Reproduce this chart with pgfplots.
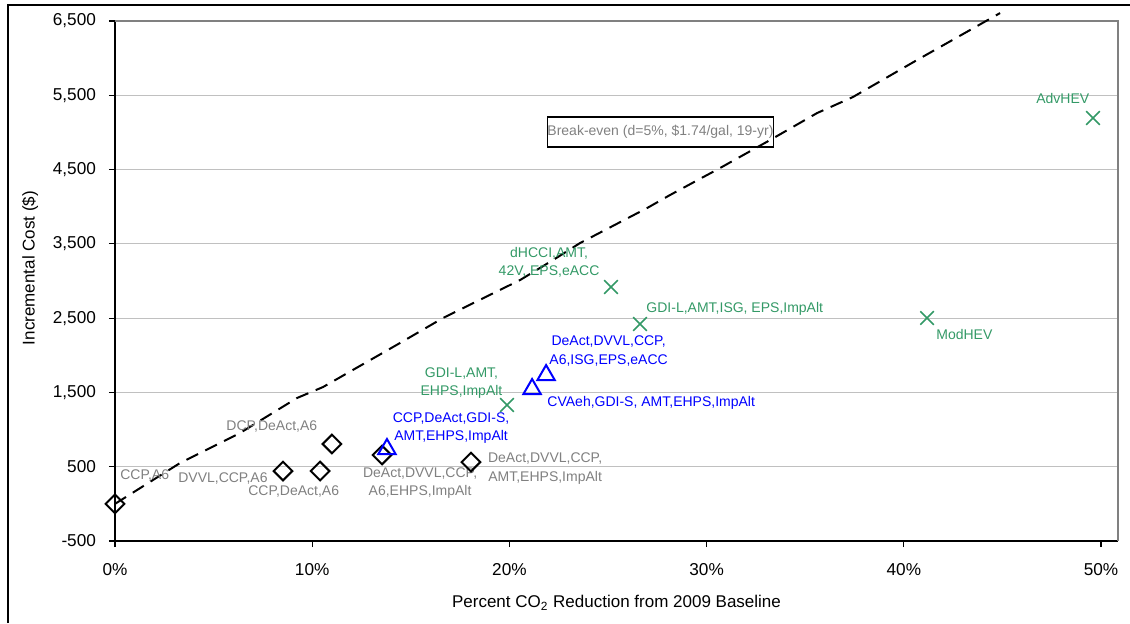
\documentclass[border=0pt]{standalone}
\usepackage{pgfplots}
\pgfplotsset{compat=1.18}
\usepackage{fontspec}
\setmainfont{Liberation Sans}

\definecolor{lblgray}{RGB}{128,128,128}
\definecolor{xgreen}{RGB}{51,153,102}
\definecolor{gridgray}{RGB}{192,192,192}
\definecolor{bordergray}{RGB}{128,128,128}
\newcommand\lbl{\fontsize{7}{9.3}\selectfont}

\begin{document}
\begin{tikzpicture}
\useasboundingbox (-57.5pt,-41pt) rectangle (507.5pt,270.5pt);
\begin{axis}[
    at={(0,0)}, anchor=south west,
    scale only axis, width=501.5pt, height=260pt,
    xmin=0, xmax=50.86,
    ymin=-500, ymax=6500,
    xtick={0,10,20,30,40,50},
    xticklabels={0\%,10\%,20\%,30\%,40\%,50\%},
    ytick={-500,500,1500,2500,3500,4500,5500,6500},
    /pgf/number format/1000 sep={,},
    /pgf/number format/assume math mode=true,
    axis x line*=bottom, axis y line*=left,
    axis line style={black, line width=1pt},
    tick style={black, line width=0.6pt},
    tick align=outside, major tick length=3pt,
    ymajorgrids=true,
    grid style={gridgray, line width=0.5pt},
    ticklabel style={font=\fontsize{8.6}{10}\selectfont},
    xticklabel style={anchor=base, yshift=-14.3pt},
    yticklabel style={xshift=-3pt},
    label style={font=\fontsize{8.5}{10}\selectfont},
    xlabel={Percent CO\textsubscript{2} Reduction from 2009 Baseline},
    ylabel={Incremental Cost (\$)},
    xlabel style={at={(axis description cs:0.5,-0.119)}, anchor=center},
    ylabel style={at={(axis description cs:-0.0847,0.525)}, anchor=center},
    clip=false,
]

% gray plot area border (top and right)
\draw[bordergray, line width=1pt] (rel axis cs:0,1) -- (rel axis cs:1,1) -- (rel axis cs:1,0);

% break-even line
\addplot[black, line width=1pt, dash pattern=on 6.5pt off 4pt] coordinates {
    (0,0)(3.30,550)(6.34,954)(9.23,1425)(10.55,1573)(14.45,2165)(16.63,2502)
    (20.54,3013)(22.21,3282)(23.58,3511)(26.98,3982)(28.14,4157)(30.68,4521)
    (33.22,4898)(35.6,5261)(37.42,5477)(40.67,5975)(44.88,6607)
};

% diamonds
\addplot[only marks, mark=square, mark size=3.3pt,
    mark options={rotate=45, black, line width=1pt, fill=none}] coordinates {
    (0,0)(8.52,442)(10.40,442)(11.00,806)(13.54,658)(18.05,563)
};

% triangles
\addplot[only marks, mark=triangle, mark size=5pt,
    mark options={blue, line width=1pt, fill=none}] coordinates {
    (13.79,738)(21.15,1546)(21.86,1734)
};

% crosses
\addplot[only marks, mark=x, mark size=4.8pt,
    mark options={xgreen, line width=0.8pt}] coordinates {
    (19.88,1331)(25.15,2919)(26.62,2421)(41.18,2502)(49.59,5194)
};

% gray labels
\node[font=\lbl, text=lblgray, anchor=west, inner sep=0pt] at (axis cs:0.25,388) {CCP,A6};
\node[font=\lbl, text=lblgray, anchor=west, inner sep=0pt] at (axis cs:3.19,348) {DVVL,CCP,A6};
\node[font=\lbl, text=lblgray, anchor=west, inner sep=0pt] at (axis cs:6.74,160) {CCP,DeAct,A6};
\node[font=\lbl, text=lblgray, anchor=west, inner sep=0pt] at (axis cs:5.63,1048) {DCP,DeAct,A6};
\node[font=\lbl, text=lblgray, align=center, inner sep=0pt] at (axis cs:15.47,281) {DeAct,DVVL,CCP,\\A6,EHPS,ImpAlt};
\node[font=\lbl, text=lblgray, align=center, inner sep=0pt] at (axis cs:21.81,476) {DeAct,DVVL,CCP,\\AMT,EHPS,ImpAlt};

% blue labels
\node[font=\lbl, text=blue, align=center, inner sep=0pt] at (axis cs:17.04,1021) {CCP,DeAct,GDI-S,\\AMT,EHPS,ImpAlt};
\node[font=\lbl, text=blue, anchor=west, inner sep=0pt] at (axis cs:21.91,1358) {CVAeh,GDI-S, AMT,EHPS,ImpAlt};
\node[font=\lbl, text=blue, align=center, inner sep=0pt] at (axis cs:25.03,2057) {DeAct,DVVL,CCP,\\A6,ISG,EPS,eACC};

% green labels
\node[font=\lbl, text=xgreen, align=center, inner sep=0pt] at (axis cs:17.57,1627) {GDI-L,AMT,\\EHPS,ImpAlt};
\node[font=\lbl, text=xgreen, align=center, inner sep=0pt] at (axis cs:22.01,3249) {dHCCI,AMT,\\42V, EPS,eACC};
\node[font=\lbl, text=xgreen, anchor=west, inner sep=0pt] at (axis cs:26.93,2623) {GDI-L,AMT,ISG, EPS,ImpAlt};
\node[font=\lbl, text=xgreen, anchor=west, inner sep=0pt] at (axis cs:41.63,2286) {ModHEV};
\node[font=\lbl, text=xgreen, anchor=west, inner sep=0pt] at (axis cs:46.7,5463) {AdvHEV};

% break-even box
\node[draw=black, line width=0.8pt, minimum width=111.5pt, minimum height=15pt,
    inner sep=0pt, font=\lbl, text=lblgray] at (axis cs:27.66,5005)
    {Break-even (d=5\%, \$1.74/gal, 19-yr)};
\end{axis}

% outer chart frame (left and top edges visible)
\draw[black, line width=1pt] (-53.5pt,-41pt) -- (-53.5pt,268pt) -- (507.5pt,268pt);
\end{tikzpicture}
\end{document}
